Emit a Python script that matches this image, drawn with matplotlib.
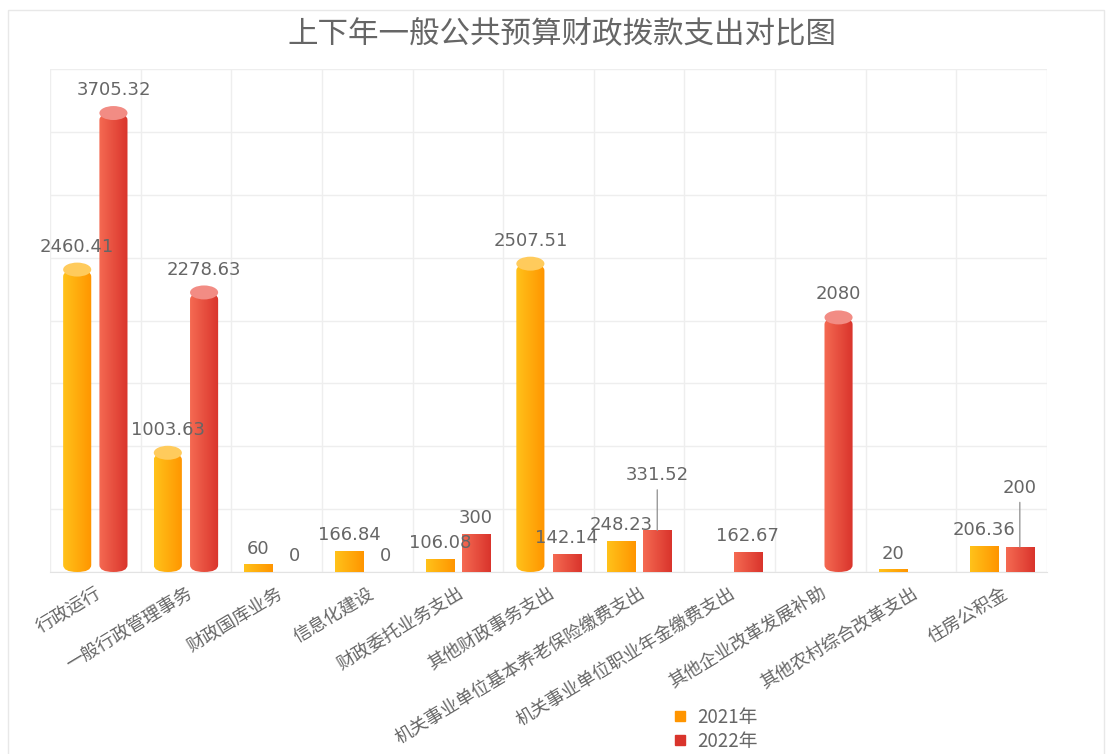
import numpy as np
import matplotlib.pyplot as plt
from matplotlib.colors import LinearSegmentedColormap
from matplotlib.patches import Ellipse, Rectangle, FancyBboxPatch
from matplotlib.lines import Line2D

plt.rcParams['font.family'] = ['Noto Sans CJK SC', 'DejaVu Sans']

# data
categories = ['行政运行', '一般行政管理事务', '财政国库业务', '信息化建设', '财政委托业务支出',
              '其他财政事务支出', '机关事业单位基本养老保险缴费支出', '机关事业单位职业年金缴费支出',
              '其他企业改革发展补助', '其他农村综合改革支出', '住房公积金']
v2021 = [2460.41, 1003.63, 60, 166.84, 106.08, 2507.51, 248.23, None, None, 20, 206.36]
v2022 = [3705.32, 2278.63, 0, 0, 300, 142.14, 331.52, 162.67, 2080, None, 200]
series = ['2021年', '2022年']

# colours: (left, right, cap)
cols2021 = ('#FFC21A', '#FF9500', '#FFCB5C')
cols2022 = ('#F56A52', '#D9342C', '#F28C84')

px = 500 / 63.0          # data units per pixel
cap_h = 14 * px
bw = 0.31
lifted = {(1, 6): 46, (1, 10): 50}   # labels pushed up with leader lines (px)

fig = plt.figure(figsize=(11.12, 7.54), dpi=100)
ax = fig.add_axes([50 / 1112, 1 - 572 / 754, 997 / 1112, 503 / 754])
ax.set_xlim(-0.5, len(categories) - 0.5)
ax.set_ylim(0, 4000)

grad = np.linspace(0, 1, 64).reshape(1, -1)

for s, (vals, cols, off) in enumerate([(v2021, cols2021, -0.2), (v2022, cols2022, 0.2)]):
    cmap = LinearSegmentedColormap.from_list('c%d' % s, [cols[0], cols[1]])
    for i, v in enumerate(vals):
        if v is None:
            continue
        x0 = i + off - bw / 2
        if v > 0:
            if v > 500:
                body = FancyBboxPatch((x0, 0), bw, v - cap_h / 2,
                                      boxstyle='round,pad=0,rounding_size=%f' % (bw / 2),
                                      mutation_aspect=cap_h / bw, facecolor='none',
                                      edgecolor='none', zorder=3)
            else:
                body = Rectangle((x0, 0), bw, v, facecolor='none', edgecolor='none', zorder=3)
            ax.add_patch(body)
            im = ax.imshow(grad, extent=(x0, x0 + bw, 0, v), cmap=cmap, aspect='auto',
                           zorder=3, interpolation='bilinear')
            im.set_clip_path(body)
            if v > 500:
                ax.add_patch(Ellipse((i + off, v - cap_h / 2), bw, cap_h,
                                     facecolor=cols[2], edgecolor='none', zorder=4))
        lab = '%g' % v
        if (s, i) in lifted:
            ax.annotate(lab, xy=(i + off, v), xytext=(0, lifted[(s, i)] * 0.72),
                        textcoords='offset points', ha='center', va='bottom',
                        color='#666666', fontsize=13, family='DejaVu Sans',
                        arrowprops=dict(arrowstyle='-', color='#999999', lw=1,
                                        shrinkA=2, shrinkB=0))
        else:
            ax.annotate(lab, xy=(i + off, v), xytext=(0, 5), textcoords='offset points',
                        ha='center', va='bottom', color='#666666', fontsize=13,
                        family='DejaVu Sans', zorder=5)

ax.set_xlim(-0.5, len(categories) - 0.5)
ax.set_ylim(0, 4000)

# grid
ax.set_yticks(np.arange(0, 4001, 500))
ax.set_yticklabels([])
ax.set_xticks(range(len(categories)))
ax.set_xticks(np.arange(-0.5, len(categories)), minor=True)
ax.set_xticklabels(categories, rotation=31, ha='right', rotation_mode='anchor',
                   color='#666666', fontsize=13)
ax.tick_params(axis='both', which='both', length=0)
ax.tick_params(axis='x', pad=9)
ax.grid(axis='y', color='#eeeeee', lw=1, zorder=0)
ax.grid(axis='x', which='minor', color='#eeeeee', lw=1, zorder=0)
ax.set_axisbelow(True)
for sp in ['top', 'right', 'left']:
    ax.spines[sp].set_visible(False)
ax.spines['bottom'].set_color('#e3e3e3')

fig.text(0.505, 1 - 35 / 754, '上下年一般公共预算财政拨款支出对比图', ha='center', va='center',
         color='#666666', fontsize=22)

# outer frame
fig.add_artist(Rectangle((8 / 1112, -0.01), 1096 / 1112, 1 - 10 / 754 + 0.01,
                         transform=fig.transFigure, facecolor='none',
                         edgecolor='#e8e8e8', lw=1))

handles = [Line2D([], [], marker='s', ls='', color=cols2021[1], markersize=7),
           Line2D([], [], marker='s', ls='', color=cols2022[1], markersize=7)]
fig.legend(handles, series, loc='center', bbox_to_anchor=(715 / 1112, 0.033), frameon=False,
           fontsize=13.5, labelcolor='#666666', handlelength=0.8, handletextpad=0.5,
           labelspacing=0.15, borderpad=0)

fig.savefig('out.png', dpi=100)
